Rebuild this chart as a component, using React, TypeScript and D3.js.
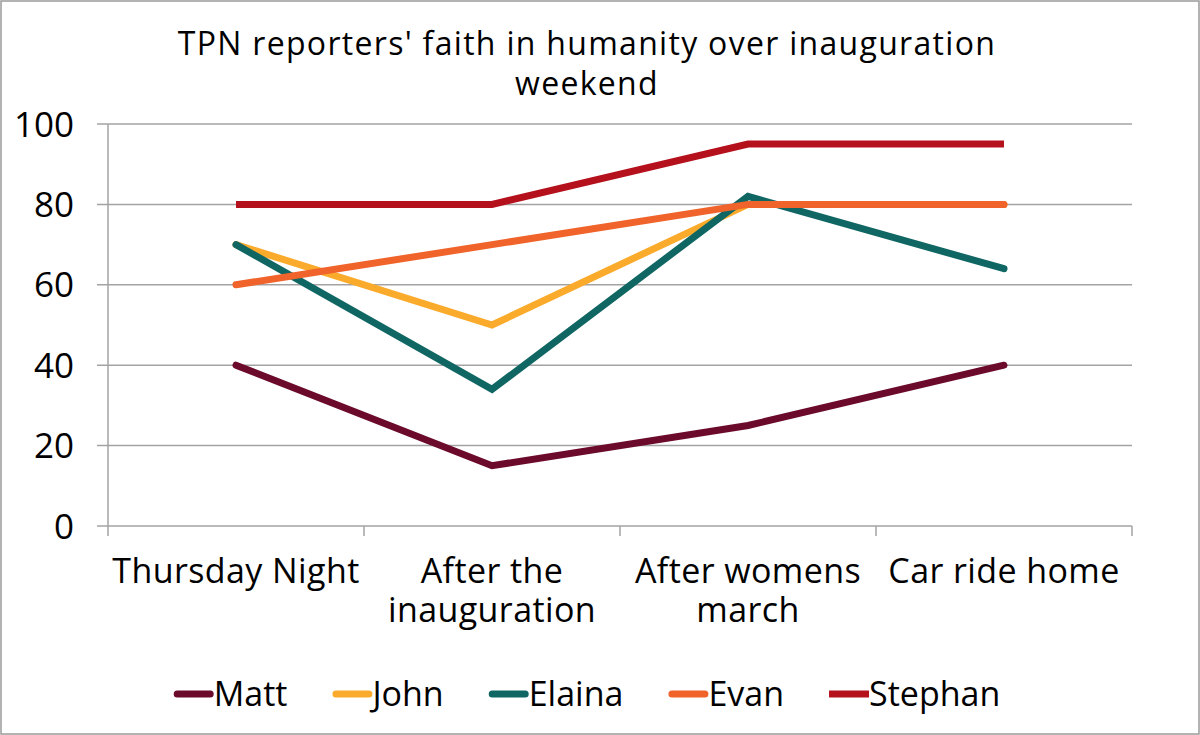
import React, { useEffect, useRef } from 'react';
import * as d3 from 'd3';

const categories = ['Thursday Night', 'After the inauguration', 'After womens march', 'Car ride home'];
const categoryLines = [['Thursday Night'], ['After the', 'inauguration'], ['After womens', 'march'], ['Car ride home']];
const names = ['Matt', 'John', 'Elaina', 'Evan', 'Stephan'];
const matt = [40, 15, 25, 40];
const john = [70, 50, 80, 80];
const elaina = [70, 34, 82, 64];
const evan = [60, 70, 80, 80];
const stephan = [80, 80, 95, 95];
const yTicks = [0, 20, 40, 60, 80, 100];
const colors = ['#6b0a2b', '#fbab2b', '#0f6662', '#f0632b', '#b5111c'];

const w = 1200;
const h = 735;
const font = '"Open Sans", Lato, sans-serif';

const Chart = () => {
  const svgRef = useRef(null);

  useEffect(() => {
    const svg = d3.select(svgRef.current);
    svg.selectAll('*').remove();

    const series = [matt, john, elaina, evan, stephan];

    const x = d3.scaleBand().domain(categories).range([108, 1132]);
    const y = d3.scaleLinear().domain([0, 100]).range([526, 124]);
    const cx = (c) => x(c) + x.bandwidth() / 2;

    svg.append('rect')
      .attr('x', 1).attr('y', 1)
      .attr('width', w - 2).attr('height', h - 2)
      .attr('fill', '#fff')
      .attr('stroke', '#9a9a9a')
      .attr('stroke-width', 1.5);

    // title
    const title = svg.append('text')
      .attr('text-anchor', 'middle')
      .attr('font-family', font)
      .attr('font-size', 32)
      .attr('letter-spacing', 1.3)
      .attr('fill', '#000');
    title.append('tspan').attr('x', 587).attr('y', 55).text("TPN reporters' faith in humanity over inauguration");
    title.append('tspan').attr('x', 587).attr('y', 95).text('weekend');

    // horizontal grid lines
    svg.append('g')
      .selectAll('line')
      .data(yTicks)
      .join('line')
      .attr('x1', 97)
      .attr('x2', 1132)
      .attr('y1', (d) => y(d))
      .attr('y2', (d) => y(d))
      .attr('stroke', '#a3a3a3')
      .attr('stroke-width', 1.5);

    svg.append('g')
      .selectAll('text')
      .data(yTicks)
      .join('text')
      .attr('x', 74)
      .attr('y', (d) => y(d))
      .attr('dy', '0.36em')
      .attr('text-anchor', 'end')
      .attr('font-family', font)
      .attr('font-size', 35)
      .text((d) => d);

    // category axis
    svg.append('line')
      .attr('x1', 108).attr('x2', 108)
      .attr('y1', y(100)).attr('y2', y(0) + 10)
      .attr('stroke', '#a3a3a3')
      .attr('stroke-width', 1.5);

    svg.append('g')
      .selectAll('line')
      .data(categories)
      .join('line')
      .attr('x1', (c) => x(c) + x.bandwidth())
      .attr('x2', (c) => x(c) + x.bandwidth())
      .attr('y1', y(0))
      .attr('y2', y(0) + 10)
      .attr('stroke', '#a3a3a3')
      .attr('stroke-width', 1.5);

    // category labels, one text per line
    const catGroups = svg.append('g')
      .selectAll('g')
      .data(categories)
      .join('g');
    catGroups.each(function (c, i) {
      d3.select(this)
        .selectAll('text')
        .data(categoryLines[i])
        .join('text')
        .attr('x', cx(c))
        .attr('y', (_, j) => 583 + j * 39)
        .attr('text-anchor', 'middle')
        .attr('font-family', font)
        .attr('font-size', 34)
        .attr('letter-spacing', 0.4)
        .text((t) => t);
    });

    // series lines
    const line = d3.line()
      .x((_, i) => cx(categories[i]))
      .y((d) => y(d));

    svg.append('g')
      .selectAll('path')
      .data(series)
      .join('path')
      .attr('d', (d) => line(d))
      .attr('fill', 'none')
      .attr('stroke', (_, i) => colors[i])
      .attr('stroke-width', 7)
      .attr('stroke-linejoin', 'miter')
      .attr('stroke-linecap', (_, i) => (i === 4 ? 'butt' : 'round'));

    // legend, laid out from measured label widths
    const legend = svg.append('g');
    const items = legend.selectAll('g')
      .data(names)
      .join('g');
    items.append('line')
      .attr('x1', (_, i) => (i === 4 ? 0 : 3.5))
      .attr('x2', (_, i) => (i === 4 ? 40 : 36.5))
      .attr('y1', 0).attr('y2', 0)
      .attr('stroke', (_, i) => colors[i])
      .attr('stroke-width', 7)
      .attr('stroke-linecap', (_, i) => (i === 4 ? 'butt' : 'round'));
    items.append('text')
      .attr('x', 40)
      .attr('dy', '0.36em')
      .attr('font-family', font)
      .attr('font-size', 34)
      .text((d) => d);

    let offset = 0;
    const gap = 45;
    items.each(function () {
      const g = d3.select(this);
      const tw = g.select('text').node().getComputedTextLength();
      g.attr('transform', `translate(${offset},0)`);
      offset += 40 + tw + gap;
    });
    const total = offset - gap;
    legend.attr('transform', `translate(${587 - total / 2},694)`);
  }, []);

  return (
    <div style={{ position: 'absolute', left: 0, top: 0 }}>
      <svg ref={svgRef} width={w} height={h} style={{ display: 'block' }}></svg>
    </div>
  );
};

export default function App() {
  return <Chart />;
}
